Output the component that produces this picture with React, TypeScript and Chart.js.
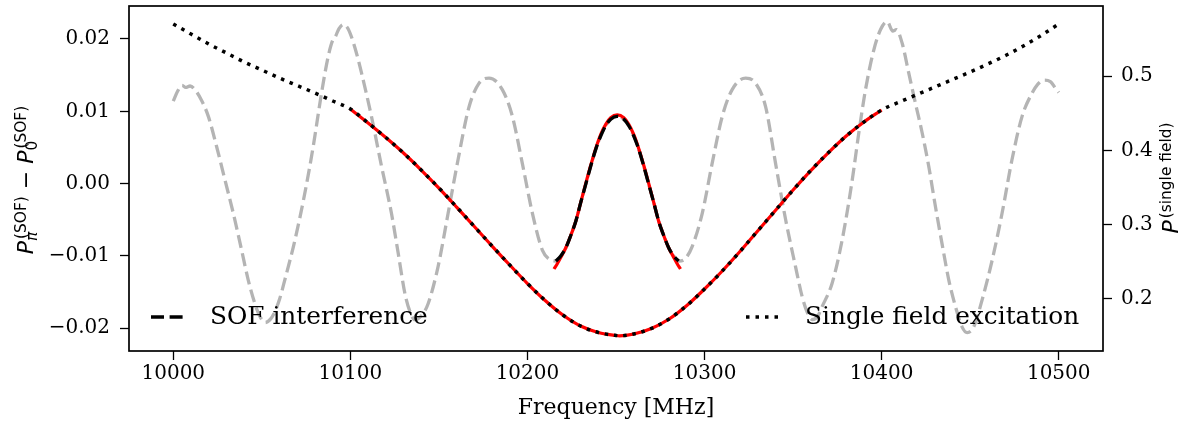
import React, { useEffect, useRef } from 'react';
import { Chart, registerables } from 'chart.js';

Chart.register(...registerables);

// ---------- axes ----------
const xTicks = [10000, 10100, 10200, 10300, 10400, 10500];
const leftTicks = [-0.02, -0.01, 0, 0.01, 0.02];
const rightTicks = [0.2, 0.3, 0.4, 0.5];
const xRange = [9975, 10525];
const leftRange = [-0.02314, 0.02456];
const rightRange = [0.13, 0.5942];

// ---------- SOF interference, full sweep (gray dashed, left axis) ----------
const grayFreq = [
  10000, 10002.5, 10005, 10007, 10009.5, 10012.2, 10016, 10019.8, 10024.5, 10029.2,
  10033.9, 10038.6, 10042.3, 10046.1, 10049, 10052, 10055, 10057.4, 10060, 10063,
  10068.7, 10074.3, 10079, 10083.7, 10087.5, 10090, 10091.5, 10093.5, 10096, 10098.5,
  10100.6, 10103.5, 10106.3, 10111.9, 10117.6, 10123.2, 10127, 10130.8, 10133.5, 10136.4,
  10140, 10143.9, 10149.5, 10155.2, 10160.8, 10167, 10172.7, 10178.3, 10185.8, 10191.5,
  10197.1, 10202.8, 10208.4, 10212,
  10216, 10218.8, 10221.6, 10224.4, 10227.3, 10230.1, 10232.9, 10235.7, 10238.5, 10241.4,
  10244.2, 10247, 10250.7, 10254.4, 10257.2, 10260, 10262.9, 10265.7, 10268.5, 10271.3,
  10274.1, 10277, 10279.8, 10282.6, 10285.4,
  10289, 10293, 10298.7, 10304.3, 10310, 10315.6, 10323.2, 10328.8, 10334.5,
  10340.1, 10345.8, 10351.4, 10355.1, 10358, 10361, 10364, 10366.4, 10372, 10377.7,
  10383.4, 10387.1, 10390.9, 10395.6, 10399.4, 10403.1, 10406.3, 10408.3, 10411.6, 10415.3,
  10419.1, 10422.9, 10426.6, 10430.4, 10434.1, 10437.9, 10441.7, 10445.4, 10448.3, 10452,
  10456.7, 10462.4, 10468, 10473.6, 10479.3, 10484.9, 10488, 10491.5, 10495.3, 10498.1,
  10500,
];
const grayVal = [
  0.0114, 0.0128, 0.0136, 0.0133, 0.0135, 0.013, 0.0115, 0.0093, 0.0051, 0.0005,
  -0.0041, -0.0092, -0.0133, -0.0166, -0.0184, -0.0192, -0.0187, -0.0177, -0.016, -0.0133,
  -0.0078, -0.0013, 0.0051, 0.0125, 0.0176, 0.0198, 0.0203, 0.0214, 0.022, 0.0215,
  0.0203, 0.018, 0.0153, 0.0093, 0.0024, -0.0041, -0.0096, -0.0152, -0.0176, -0.0188,
  -0.0183, -0.0166, -0.0115, -0.0041, 0.0033, 0.0106, 0.0139, 0.0146, 0.013, 0.0093,
  0.0028, -0.0041, -0.0092, -0.0104,
  -0.0107, -0.01, -0.0089, -0.0072, -0.0052, -0.0026, -0.0001, 0.0024, 0.0047, 0.0066,
  0.008, 0.0089, 0.0093, 0.0089, 0.008, 0.0066, 0.0047, 0.0024, -0.0001, -0.0026,
  -0.0052, -0.0072, -0.0089, -0.01, -0.0107,
  -0.0104, -0.0087, -0.0041, 0.0028, 0.0093, 0.013, 0.0146, 0.0139, 0.0106,
  0.0028, -0.005, -0.0115, -0.0156, -0.0178, -0.0188, -0.0183, -0.017, -0.0138, -0.0078,
  0.0005, 0.007, 0.013, 0.0185, 0.0213, 0.0224, 0.0211, 0.0213, 0.0194, 0.0153,
  0.0111, 0.007, 0.0024, -0.0032, -0.0083, -0.0133, -0.017, -0.0198, -0.0206, -0.0198,
  -0.0161, -0.0106, -0.0041, 0.0033, 0.0093, 0.0125, 0.0137, 0.0143, 0.0141, 0.0132,
  0.0126,
];

// ---------- SOF interference, central window (black dashed, left axis) ----------
const sofFreq = [
  10216, 10218.8, 10221.6, 10224.4, 10227.3, 10230.1, 10232.9, 10235.7, 10238.5, 10241.4,
  10244.2, 10247, 10250.7, 10254.4, 10257.2, 10260, 10262.9, 10265.7, 10268.5, 10271.3,
  10274.1, 10277, 10279.8, 10282.6, 10285.4,
];
const sofVal = [
  -0.0107, -0.01, -0.0089, -0.0072, -0.0052, -0.0026, -0.0001, 0.0024, 0.0047, 0.0066,
  0.008, 0.0089, 0.0093, 0.0089, 0.008, 0.0066, 0.0047, 0.0024, -0.0001, -0.0026,
  -0.0052, -0.0072, -0.0089, -0.01, -0.0107,
];

// ---------- fit of the central peak (red, left axis) ----------
const peakFitFreq = [
  10215, 10217, 10219, 10221.6, 10224.4, 10227.3, 10230.1, 10232.9, 10235.7, 10238.5,
  10241.4, 10244.2, 10247, 10250.7, 10254.4, 10257.2, 10260, 10262.9, 10265.7, 10268.5,
  10271.3, 10274.1, 10277, 10279.8, 10282.4, 10284.4, 10286.4,
];
const peakFitVal = [
  -0.0118, -0.011, -0.0101, -0.0089, -0.0072, -0.0052, -0.0026, 0.0, 0.0025, 0.0048,
  0.0068, 0.0082, 0.0091, 0.0095, 0.0091, 0.0082, 0.0068, 0.0048, 0.0025, 0.0,
  -0.0026, -0.0052, -0.0072, -0.0089, -0.0101, -0.011, -0.0118,
];

// ---------- fit of the broad dip (red, left axis) ----------
const dipFitFreq = [
  10100, 10110, 10120, 10130, 10140, 10150, 10160, 10170, 10180, 10190,
  10200, 10210, 10220, 10230, 10240, 10250, 10252, 10260, 10270, 10280,
  10290, 10300, 10310, 10320, 10330, 10340, 10350, 10360, 10370, 10380,
  10390, 10400,
];
const dipFitVal = [
  0.01031, 0.00838, 0.00637, 0.00423, 0.00188, -0.00061, -0.00324, -0.00593, -0.00863, -0.01125,
  -0.01381, -0.01616, -0.01817, -0.01969, -0.02059, -0.021, -0.02104, -0.02079, -0.02003, -0.01872,
  -0.01685, -0.01457, -0.01208, -0.00939, -0.00655, -0.00372, -0.00088, 0.00181, 0.0043, 0.00658,
  0.00852, 0.01018,
];

// ---------- single field excitation (black dotted, right axis) ----------
const singleFreq = [
  10000, 10010, 10020, 10030, 10040, 10050, 10060, 10070, 10080, 10090,
  10100, 10110, 10120, 10130, 10140, 10150, 10160, 10170, 10180, 10190,
  10200, 10210, 10220, 10230, 10240, 10250, 10252, 10260, 10270, 10280,
  10290, 10300, 10310, 10320, 10330, 10340, 10350, 10360, 10370, 10380,
  10390, 10400, 10410, 10420, 10430, 10440, 10450, 10460, 10470, 10480,
  10490, 10500,
];
const singleVal = [
  0.57, 0.5565, 0.5431, 0.531, 0.5189, 0.5081, 0.4973, 0.4872, 0.4771, 0.4664,
  0.4556, 0.4368, 0.4173, 0.3964, 0.3735, 0.3493, 0.3238, 0.2975, 0.2713, 0.2457,
  0.2208, 0.198, 0.1784, 0.1636, 0.1549, 0.1509, 0.1505, 0.1529, 0.1603, 0.1731,
  0.1912, 0.2134, 0.2376, 0.2639, 0.2915, 0.3191, 0.3466, 0.3729, 0.3971, 0.4193,
  0.4381, 0.4543, 0.465, 0.4751, 0.4852, 0.4953, 0.5054, 0.5162, 0.5276, 0.5404,
  0.5545, 0.57,
];

const legendLabels = ['SOF interference', 'Single field excitation'];
const xTitle = 'Frequency [MHz]';

const SERIF = '"DejaVu Serif", serif';
const SANS = '"DejaVu Sans", sans-serif';

type Group = { base?: string; op?: string; sup?: string; sub?: string; subItalic?: boolean };

function drawMath(ctx: CanvasRenderingContext2D, groups: Group[], cx: number, cy: number, baseSize: number, scriptSize: number) {
  const baseFont = `italic ${baseSize}px ${SANS}`;
  const opFont = `${baseSize}px ${SANS}`;
  const supFont = `${scriptSize}px ${SANS}`;
  const subFontI = `italic ${scriptSize}px ${SANS}`;
  const widths: number[] = [];
  let total = 0;
  for (const g of groups) {
    let w = 0;
    if (g.op) {
      ctx.font = opFont;
      w = ctx.measureText(g.op).width;
    } else {
      ctx.font = baseFont;
      w = ctx.measureText(g.base || '').width;
      let sw = 0;
      if (g.sup) { ctx.font = supFont; sw = Math.max(sw, ctx.measureText(g.sup).width + 2); }
      if (g.sub) { ctx.font = g.subItalic ? subFontI : supFont; sw = Math.max(sw, ctx.measureText(g.sub).width); }
      w += sw;
    }
    widths.push(w);
    total += w;
  }
  ctx.save();
  ctx.translate(cx, cy);
  ctx.rotate(-Math.PI / 2);
  ctx.fillStyle = '#000';
  ctx.textBaseline = 'alphabetic';
  ctx.textAlign = 'left';
  let x = -total / 2;
  groups.forEach((g, i) => {
    if (g.op) {
      ctx.font = opFont;
      ctx.fillText(g.op, x, 0);
    } else {
      ctx.font = baseFont;
      ctx.fillText(g.base || '', x, 0);
      const bw = ctx.measureText(g.base || '').width;
      if (g.sup) { ctx.font = supFont; ctx.fillText(g.sup, x + bw + 2, -baseSize * 0.34); }
      if (g.sub) { ctx.font = g.subItalic ? subFontI : supFont; ctx.fillText(g.sub, x + bw, baseSize * 0.2); }
    }
    x += widths[i];
  });
  ctx.restore();
}

const decorations = {
  id: 'decorations',
  afterDraw(chart: any) {
    const ctx: CanvasRenderingContext2D = chart.ctx;
    const ca = chart.chartArea;
    ctx.save();
    // frame
    ctx.strokeStyle = '#000';
    ctx.lineWidth = 1.7;
    ctx.setLineDash([]);
    ctx.strokeRect(ca.left, ca.top, ca.right - ca.left, ca.bottom - ca.top);

    // legend 1 : dashed
    ctx.lineWidth = 3.3;
    ctx.lineCap = 'butt';
    ctx.strokeStyle = '#000';
    ctx.setLineDash([13, 5.6]);
    ctx.beginPath();
    ctx.moveTo(151, 317);
    ctx.lineTo(184, 317);
    ctx.stroke();
    // legend 2 : dotted
    ctx.lineWidth = 3.5;
    ctx.setLineDash([3.5, 6]);
    ctx.beginPath();
    ctx.moveTo(746, 317);
    ctx.lineTo(781, 317);
    ctx.stroke();
    ctx.setLineDash([]);

    ctx.fillStyle = '#000';
    ctx.font = `24.8px ${SERIF}`;
    ctx.textBaseline = 'alphabetic';
    ctx.textAlign = 'left';
    ctx.fillText(legendLabels[0], 210, 324);
    ctx.fillText(legendLabels[1], 805, 324);

    // x axis title
    ctx.font = `22px ${SERIF}`;
    ctx.textAlign = 'center';
    ctx.fillText(xTitle, (ca.left + ca.right) / 2, 414);
    ctx.restore();

    // y axis titles (mathtext-like)
    drawMath(ctx, [
      { base: 'P', sup: '(SOF)', sub: 'π', subItalic: true },
      { op: ' − ' },
      { base: 'P', sup: '(SOF)', sub: '0' },
    ], 33, 180, 22, 15.4);
    drawMath(ctx, [{ base: 'P', sup: '(single field)' }], 1178, 178, 22, 15.4);
  },
};

function pts(xs: number[], ys: number[]) {
  return xs.map((x, i) => ({ x, y: ys[i] }));
}

export default function App() {
  const ref = useRef<HTMLCanvasElement>(null);
  useEffect(() => {
    document.body.style.margin = '0';
    const tickFont = { family: SERIF, size: 20 };
    const gridOpts = { drawOnChartArea: false, drawTicks: true, tickLength: 9, tickWidth: 1.3, tickColor: '#000', color: '#000' };
    const yFit = (w: number) => (s: any) => { s.width = w; s.paddingTop = 0; s.paddingBottom = 0; };
    const chart = new Chart(ref.current as HTMLCanvasElement, {
      type: 'line',
      data: {
        datasets: [
          {
            label: legendLabels[1], data: pts(singleFreq, singleVal), yAxisID: 'y2',
            borderColor: '#000', borderWidth: 3.5, borderDash: [3.5, 5.8], order: 0,
          },
          {
            label: legendLabels[0], data: pts(sofFreq, sofVal), yAxisID: 'y',
            borderColor: '#000', borderWidth: 3.3, borderDash: [13, 5.6], order: 1,
          },
          {
            label: 'fit peak', data: pts(peakFitFreq, peakFitVal), yAxisID: 'y',
            borderColor: '#ff0000', borderWidth: 3.2, order: 2,
          },
          {
            label: 'fit dip', data: pts(dipFitFreq, dipFitVal), yAxisID: 'y',
            borderColor: '#ff0000', borderWidth: 3.2, order: 2,
          },
          {
            label: 'SOF full', data: pts(grayFreq, grayVal), yAxisID: 'y',
            borderColor: '#b4b4b4', borderWidth: 3.3, borderDash: [13, 5.6], order: 3,
          },
        ] as any,
      },
      options: {
        animation: false,
        responsive: true,
        maintainAspectRatio: false,
        layout: { padding: { top: 6, left: 0, right: 0, bottom: 0 } },
        plugins: { legend: { display: false }, tooltip: { enabled: false } },
        elements: {
          point: { radius: 0, hoverRadius: 0 },
          line: { cubicInterpolationMode: 'monotone', borderCapStyle: 'butt', fill: false },
        },
        scales: {
          x: {
            type: 'linear', min: xRange[0], max: xRange[1],
            afterBuildTicks: (s: any) => { s.ticks = xTicks.map((v) => ({ value: v })); },
            afterFit: (s: any) => { s.height = 70; s.paddingLeft = 0; s.paddingRight = 0; },
            grid: gridOpts, border: { display: false },
            ticks: { color: '#000', font: tickFont, padding: 2, maxRotation: 0, autoSkip: false, callback: (v: any) => String(v) },
          },
          y: {
            type: 'linear', position: 'left', min: leftRange[0], max: leftRange[1],
            afterBuildTicks: (s: any) => { s.ticks = leftTicks.map((v) => ({ value: v })); },
            afterFit: yFit(129),
            grid: gridOpts, border: { display: false },
            ticks: {
              color: '#000', font: tickFont, padding: 10, autoSkip: false,
              callback: (v: any) => (v < 0 ? '\u2212' : '') + Math.abs(v).toFixed(2),
            },
          },
          y2: {
            type: 'linear', position: 'right', min: rightRange[0], max: rightRange[1],
            afterBuildTicks: (s: any) => { s.ticks = rightTicks.map((v) => ({ value: v })); },
            afterFit: yFit(80),
            grid: gridOpts, border: { display: false },
            ticks: { color: '#000', font: tickFont, padding: 9, autoSkip: false, callback: (v: any) => v.toFixed(1) },
          },
        },
      } as any,
      plugins: [decorations],
    });
    return () => chart.destroy();
  }, []);
  return (
    <div style={{ position: 'relative', width: 1183, height: 421 }}>
      <canvas ref={ref} />
    </div>
  );
}
